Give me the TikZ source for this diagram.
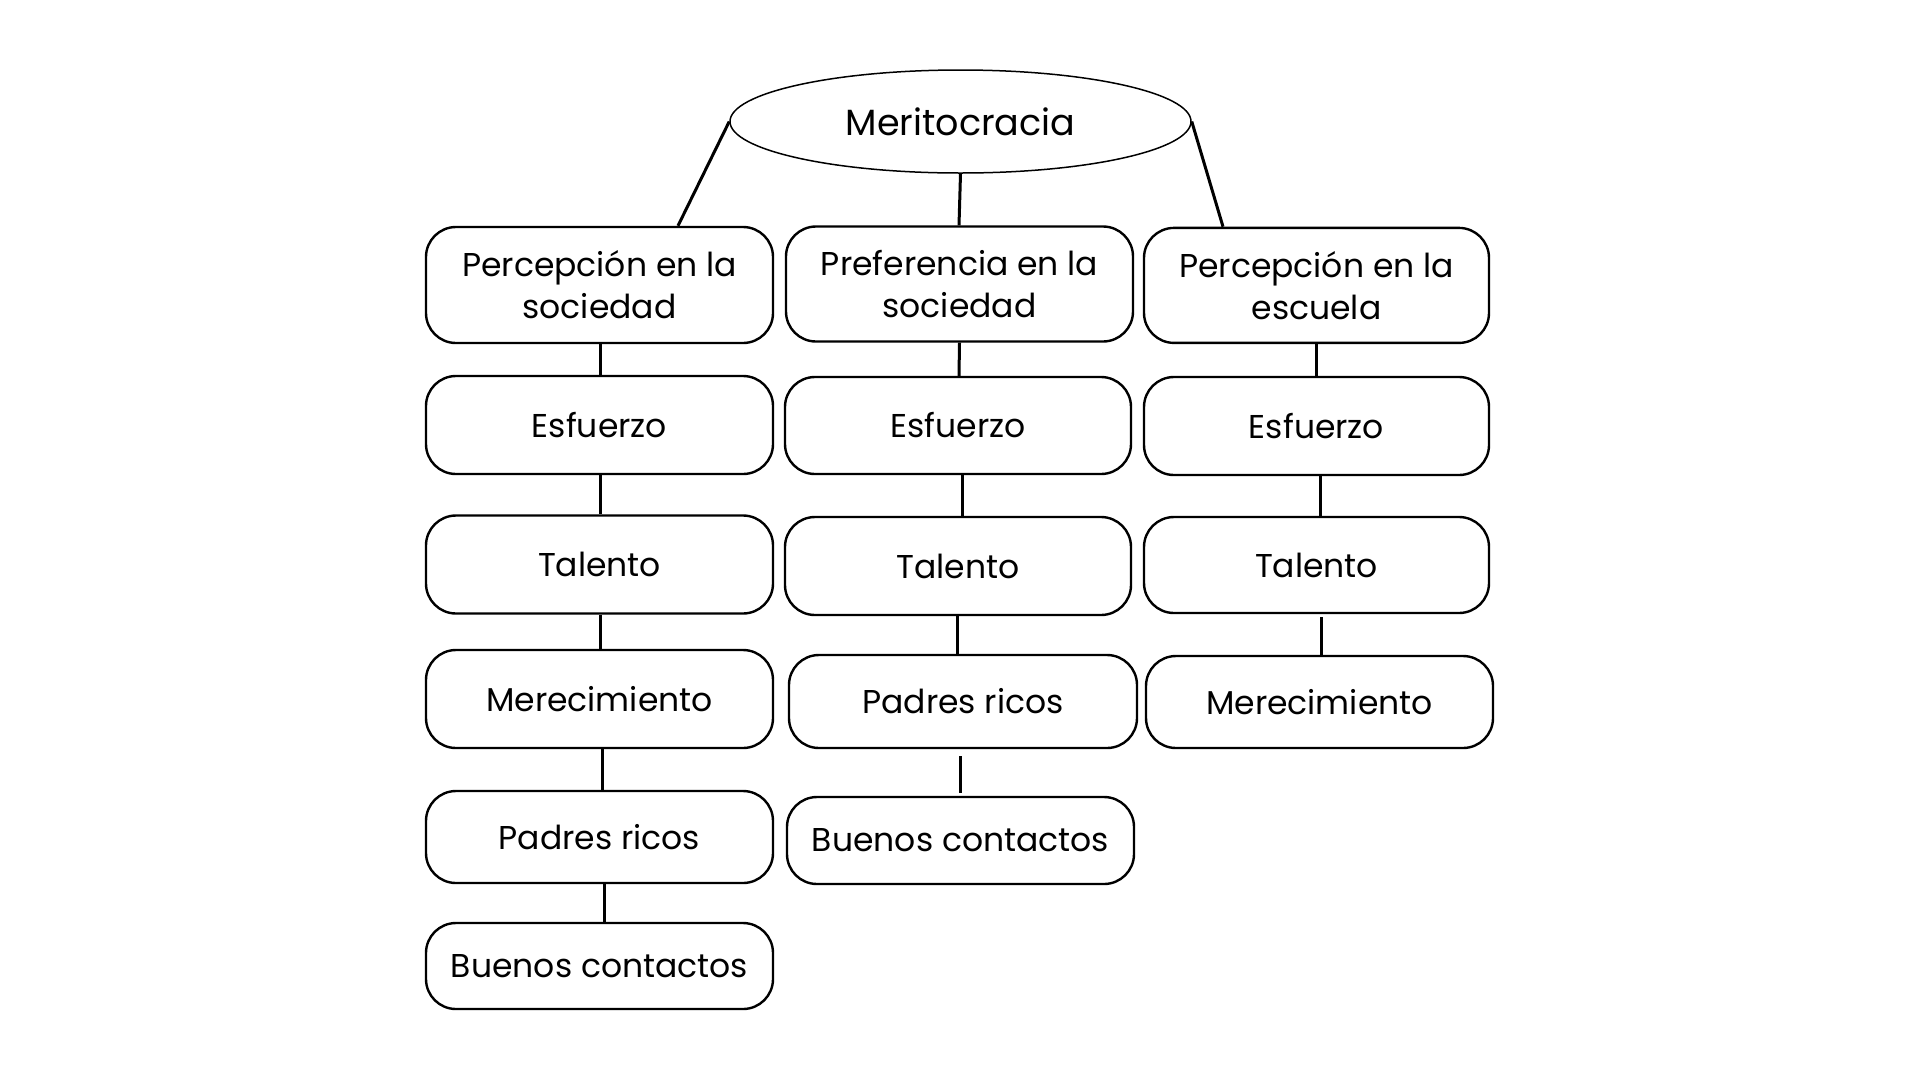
\documentclass[tikz,border=0pt]{standalone}
\usepackage{fontspec}
\setmainfont{Poppins}
\usetikzlibrary{shapes.geometric}
\begin{document}
\begin{tikzpicture}[x=1pt,y=-1pt,
  box/.style={draw=black, line width=2.4pt, rounded corners=30pt, align=center,
    inner sep=0pt, font=\fontsize{33}{42}\selectfont},
  link/.style={draw=black, line width=3pt},
  oval/.style={draw=black, ellipse, line width=1.5pt, inner sep=0pt,
    font=\fontsize{36.5}{46}\selectfont}]
\useasboundingbox[fill=white] (0,0) rectangle (1920,1080);

\node[oval, minimum width=461pt, minimum height=103pt] (top) at (960.5,121.5) {Meritocracia};

% Column 1
\node[box, minimum width=347pt, minimum height=116pt] (a1) at (599.5,285) {Percepción en la\\sociedad};
\node[box, minimum width=347pt, minimum height=98pt] (a2) at (599.5,425) {Esfuerzo};
\node[box, minimum width=347pt, minimum height=98pt] (a3) at (599.5,564.5) {Talento};
\node[box, minimum width=347pt, minimum height=98pt] (a4) at (599.5,699) {Merecimiento};
\node[box, minimum width=347pt, minimum height=92pt] (a5) at (599.5,837) {Padres ricos};
\node[box, minimum width=347pt, minimum height=86pt] (a6) at (599.5,966) {Buenos contactos};

% Column 2
\node[box, minimum width=347pt, minimum height=115pt] (b1) at (959.5,284) {Preferencia en la\\sociedad};
\node[box, minimum width=346pt, minimum height=97pt] (b2) at (958,425.5) {Esfuerzo};
\node[box, minimum width=346pt, minimum height=98pt] (b3) at (958,566) {Talento};
\node[box, minimum width=348pt, minimum height=93pt] (b4) at (963,701.5) {Padres ricos};
\node[box, minimum width=347pt, minimum height=87pt] (b5) at (960.5,840.5) {Buenos contactos};

% Column 3
\node[box, minimum width=345pt, minimum height=115pt] (c1) at (1316.5,285.4) {Percepción en la\\escuela};
\node[box, minimum width=345pt, minimum height=98pt] (c2) at (1316.5,426) {Esfuerzo};
\node[box, minimum width=345pt, minimum height=96pt] (c3) at (1316.5,565) {Talento};
\node[box, minimum width=347pt, minimum height=92pt] (c4) at (1319.5,702) {Merecimiento};

% Links from top
\draw[link] (top.west) -- ([xshift=78.5pt]a1.north);
\draw[link] (top.south) -- ([xshift=-0.5pt]b1.north);
\draw[link] (top.east) -- ([xshift=-93.5pt]c1.north);

% Column 1 links
\draw[link] ([xshift=0.5pt]a1.south) -- ([xshift=0.5pt]a2.north);
\draw[link] ([xshift=0.5pt]a2.south) -- ([xshift=0.5pt]a3.north);
\draw[link] ([xshift=0.5pt]a3.south) -- ([xshift=0.5pt]a4.north);
\draw[link] ([xshift=2.5pt]a4.south) -- ([xshift=2.5pt]a5.north);
\draw[link] ([xshift=4.5pt]a5.south) -- ([xshift=4.5pt]a6.north);

% Column 2 links
\draw[link] (b1.south) -- ([xshift=1pt]b2.north);
\draw[link] ([xshift=4.5pt]b2.south) -- ([xshift=4.5pt]b3.north);
\draw[link] ([xshift=-0.5pt]b3.south) -- ([xshift=-5.5pt]b4.north);
\draw[link, shorten <=7pt, shorten >=3pt] ([xshift=-3pt]b4.south) -- ([xshift=-0.5pt]b5.north);

% Column 3 links
\draw[link] ([xshift=-0.5pt]c1.south) -- ([xshift=-0.5pt]c2.north);
\draw[link] ([xshift=3.5pt]c2.south) -- ([xshift=3.5pt]c3.north);
\draw[link, shorten <=3pt] ([xshift=4.5pt]c3.south) -- ([xshift=1.5pt]c4.north);
\end{tikzpicture}
\end{document}
